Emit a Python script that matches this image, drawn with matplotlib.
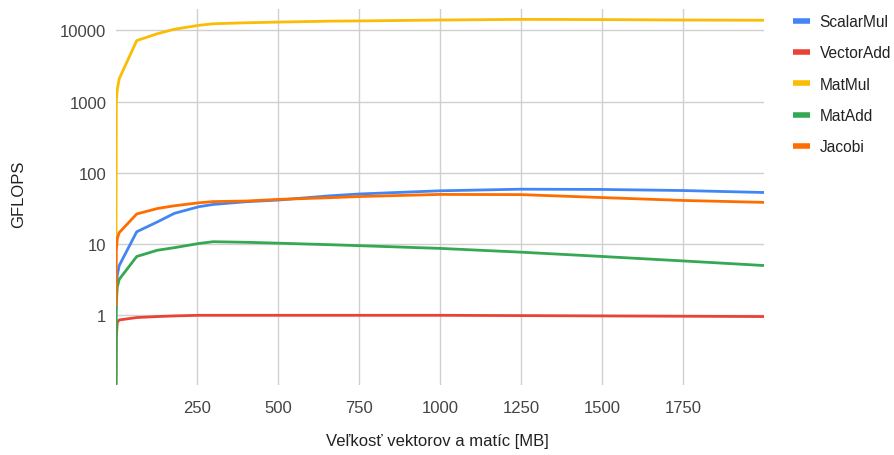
import numpy as np
import matplotlib
matplotlib.use("Agg")
import matplotlib.pyplot as plt
from matplotlib.lines import Line2D

plt.rcParams['font.family'] = ['Liberation Sans', 'DejaVu Sans']

# data size in MB
size_mb = [0.1, 1, 4, 10, 64, 128, 180, 256, 300, 400, 500, 660, 750, 1000, 1250, 1500, 1750, 2000]

scalar_mul = [1.2, 2.2, 3.7, 5.0, 14.9, 20.5, 27.0, 33.5, 36.0, 39.3, 41.5, 47.6, 50.5, 56.0, 59.0, 58.5, 56.5, 53.0]
vector_add = [0.1, 0.5, 0.8, 0.86, 0.93, 0.96, 0.98, 1.0, 1.0, 1.0, 1.0, 1.0, 1.0, 1.0, 0.99, 0.98, 0.97, 0.96]
mat_mul = [10.5, 1000, 1500, 2100, 7200, 9000, 10400, 11800, 12400, 12800, 13100, 13500, 13600, 14000, 14300, 14200, 14000, 13900]
mat_add = [0.11, 1.5, 2.5, 3.2, 6.7, 8.2, 8.9, 10.2, 10.8, 10.6, 10.3, 9.8, 9.5, 8.7, 7.7, 6.7, 5.8, 5.0]
jacobi = [1.4, 8.0, 12.0, 14.5, 26.5, 31.6, 34.5, 38.0, 39.5, 40.2, 42.4, 44.8, 46.5, 49.8, 49.5, 45.0, 41.0, 38.5]

series = [
    ("ScalarMul", scalar_mul, "#4285F4"),
    ("VectorAdd", vector_add, "#EA4335"),
    ("MatMul", mat_mul, "#FBBC04"),
    ("MatAdd", mat_add, "#34A853"),
    ("Jacobi", jacobi, "#FF6D01"),
]

x_ticks = [250, 500, 750, 1000, 1250, 1500, 1750]
y_ticks = [1, 10, 100, 1000, 10000]

W, H = 895, 456
fig = plt.figure(figsize=(W / 100, H / 100), dpi=100)
ax = fig.add_axes([116 / W, 1 - 386 / H, (764 - 116) / W, (386 - 10) / H])

for name, vals, color in series:
    ax.plot(size_mb, vals, color=color, lw=2.0, label=name,
            solid_joinstyle='round', solid_capstyle='round')

ax.set_yscale('log')
ax.set_xlim(0, 2000)
ax.set_ylim(0.105, 20000)
ax.set_xticks(x_ticks)
ax.set_xticklabels([str(t) for t in x_ticks])
ax.set_yticks(y_ticks)
ax.set_yticklabels([str(t) for t in y_ticks])
ax.yaxis.set_minor_locator(matplotlib.ticker.NullLocator())

ax.grid(True, color='#d0d0d0', lw=1.0)
ax.set_axisbelow(True)
for s in ax.spines.values():
    s.set_visible(False)
ax.tick_params(length=0, labelsize=12, colors='#444444')
ax.tick_params(axis='y', pad=7)
ax.tick_params(axis='x', pad=11)

fig.text(437 / W, 1 - 442 / H, "Veľkosť vektorov a matíc [MB]", fontsize=12,
         color='#222222', ha='center', va='center')
fig.text(19 / W, 1 - 194 / H, "GFLOPS", rotation=90, fontsize=12, color='#222222',
         ha='center', va='center')

handles = [Line2D([0], [0], color=c, lw=4, solid_capstyle='butt') for _, _, c in series]
fig.legend(handles, [n for n, _, _ in series], loc='upper left',
           bbox_to_anchor=(793 / W, 1 - 15 / H), frameon=False, fontsize=11.2,
           handlelength=1.1, handletextpad=0.6, labelspacing=1.05,
           borderpad=0, borderaxespad=0, labelcolor='#222222')

fig.savefig("out.png", dpi=100)
